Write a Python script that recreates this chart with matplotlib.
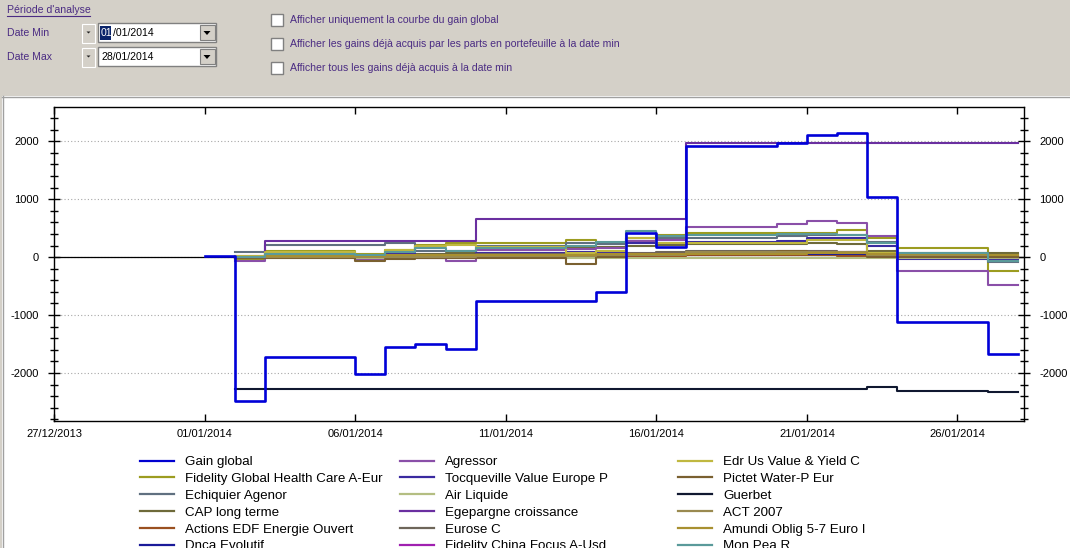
import numpy as np
import pandas as pd
import matplotlib
matplotlib.use('Agg')
from matplotlib import pyplot as plt
import matplotlib.dates as mdates
from matplotlib.ticker import MultipleLocator
from matplotlib.patches import Rectangle, Polygon
from matplotlib.lines import Line2D

plt.rcParams['axes.unicode_minus'] = False
plt.rcParams['font.family'] = ['Liberation Sans', 'DejaVu Sans']

N = np.nan
DAYS = pd.date_range('2014-01-01', '2014-01-28', freq='D')
X_TICKS = pd.date_range('2013-12-27', '2014-01-28', freq='5D')

# daily gains, 01/01/2014 .. 28/01/2014
gain_global = [25, -2490, -1720, -1720, -1720, -2010, -1546, -1494, -1592, -759, -759, -759, -759, -609,
               419, 167, 1925, 1925, 1925, 1971, 2115, 2143, 1040, -1115, -1115, -1115, -1667, -1667]
fidelity_health = [N, -35, 103, 103, 103, 60, 120, 218, 236, 247, 247, 247, 293, 250,
                   330, 380, 408, 408, 408, 425, 420, 466, 322, 150, 150, 150, -240, -240]
echiquier = [N, 92, 207, 207, 207, 207, 236, 103, 109, 200, 200, 200, 247, 230,
             280, 330, 333, 333, 333, 360, 379, 379, 264, 50, 50, 50, -80, -80]
cap_long = [N, -20, 20, 20, 20, -20, 30, 60, 70, 120, 120, 120, 160, 180,
            200, 210, 220, 220, 220, 230, 240, 230, 100, 70, 70, 70, 70, 70]
actions_edf = [N, -10, 0, 0, 0, -10, 0, 0, 0, 10, 10, 10, 10, 10,
               20, 20, 30, 30, 30, 30, 30, 20, 0, -10, -10, -10, -20, -20]
dnca = [N, 5, 20, 20, 20, 10, 20, 20, 20, 30, 30, 30, 30, 30,
        40, 50, 60, 60, 60, 60, 60, 50, 20, 0, 0, 0, -10, -10]
agressor = [N, -70, 40, 40, 40, -50, -20, -20, -70, 130, 130, 130, 140, 150,
            280, 300, 520, 520, 520, 570, 625, 590, 360, -245, -245, -245, -480, -480]
tocqueville = [N, 10, 35, 35, 35, 20, 63, 40, 29, 70, 70, 70, 80, 90,
               236, 236, 260, 260, 260, 282, 330, 322, 195, -40, -40, -40, -40, -40]
air_liquide = [N] + [-20] * 27
egepargne = [N, 20] + [276] * 7 + [660] * 7 + [1965] * 12
eurose = [N, 0, 30, 30, 30, 20, 30, 40, 40, 50, 50, 50, 50, 60,
          70, 80, 100, 100, 100, 110, 100, 90, 40, 20, 20, 20, 0, 0]
fidelity_china = [N, 0, 10, 10, 10, 0, 10, 20, 20, 30, 30, 30, 30, 40,
                  50, 60, 70, 70, 70, 70, 80, 80, 40, 10, 10, 10, 0, 0]
edr = [N, 17, 80, 80, 80, 35, 120, 190, 218, 180, 180, 180, 63, 100,
       322, 250, 247, 247, 247, 250, 293, 293, 63, 30, 30, 30, 10, 10]
pictet = [N, -20, -23, -23, -23, -63, -30, -20, -20, -10, -10, -10, -120, 0,
          30, 60, 90, 90, 90, 100, 90, 70, 10, 0, 0, 0, 0, 0]
guerbet = [N] + [-2270] * 21 + [-2247] + [-2305] * 3 + [-2328] * 2
act_2007 = [N, 0, 10, 10, 10, 10, 10, 10, 10, 20, 20, 20, 20, 40,
            40, 40, 80, 80, 80, 80, 80, 80, 30, 30, 30, 30, 30, 30]
amundi = [N, 10, 20, 20, 20, 20, 30, 30, 30, 40, 40, 40, 40, 50,
          50, 60, 60, 60, 60, 60, 70, 70, 60, 50, 50, 50, 40, 40]
mon_pea = [N, 0, 50, 50, 50, 30, 80, 160, 109, 150, 150, 150, 200, 253,
           448, 370, 390, 390, 390, 400, 400, 390, 250, 63, 63, 63, -60, -60]

COL1 = [('Gain global', gain_global, '#0000D0'),
        ('Fidelity Global Health Care A-Eur', fidelity_health, '#9C9C20'),
        ('Echiquier Agenor', echiquier, '#607080'),
        ('CAP long terme', cap_long, '#6E6A3A'),
        ('Actions EDF Energie Ouvert', actions_edf, '#9A5020'),
        ('Dnca Evolutif', dnca, '#1A1A99')]
COL2 = [('Agressor', agressor, '#8A4FA8'),
        ('Tocqueville Value Europe P', tocqueville, '#3A2AA0'),
        ('Air Liquide', air_liquide, '#B4BE82'),
        ('Egepargne croissance', egepargne, '#6A2FA0'),
        ('Eurose C', eurose, '#6E665A'),
        ('Fidelity China Focus A-Usd', fidelity_china, '#A020B0')]
COL3 = [('Edr Us Value & Yield C', edr, '#C0B840'),
        ('Pictet Water-P Eur', pictet, '#7A6030'),
        ('Guerbet', guerbet, '#101830'),
        ('ACT 2007', act_2007, '#9A8A50'),
        ('Amundi Oblig 5-7 Euro I', amundi, '#A89030'),
        ('Mon Pea R', mon_pea, '#5A9A9A')]

W, H = 1070, 548
fig = plt.figure(figsize=(W / 100, H / 100), dpi=100)
fig.patch.set_facecolor('white')

# --- form controls (pixel coordinates) ---
bg = fig.add_axes([0, 0, 1, 1], zorder=0)
bg.set_xlim(0, W)
bg.set_ylim(H, 0)
bg.axis('off')
GREY = '#D4D0C8'
UI_TXT = '#4B2C83'
UI_FS = 7.6
bg.add_patch(Rectangle((0, 0), W, 96, facecolor=GREY, edgecolor='none'))
bg.add_patch(Rectangle((0, 96), 2, H - 96, facecolor=GREY, edgecolor='none'))
bg.plot([2, W], [96.5, 96.5], color='#A0A0A0', lw=1)
bg.plot([2.5, 2.5], [96, H], color='#A0A0A0', lw=1)

bg.text(7, 10, "Période d'analyse", fontsize=UI_FS, color=UI_TXT, va='center')
bg.plot([7, 90], [15.5, 15.5], color=UI_TXT, lw=0.8)
for yc, lab, val in [(33, 'Date Min', '01/01/2014'), (57, 'Date Max', '28/01/2014')]:
    bg.text(7, yc, lab, fontsize=UI_FS, color=UI_TXT, va='center')
    bg.add_patch(Rectangle((82, yc - 9.5), 13, 19, facecolor=GREY, edgecolor='#FFFFFF', lw=0.8))
    bg.add_patch(Polygon([(86.5, yc - 1.5), (90.5, yc - 1.5), (88.5, yc + 0.5)], closed=True,
                         facecolor='#202020', edgecolor='none'))
    bg.add_patch(Rectangle((98, yc - 10), 118, 19, facecolor='white', edgecolor='#808080', lw=1))
    bg.add_patch(Rectangle((199.5, yc - 8), 15, 15, facecolor=GREY, edgecolor='#808080', lw=0.8))
    bg.add_patch(Polygon([(203.5, yc - 2), (210.5, yc - 2), (207, yc + 2)], closed=True,
                         facecolor='black', edgecolor='none'))
    if lab == 'Date Min':
        bg.add_patch(Rectangle((100, yc - 7.5), 11, 14, facecolor='#0A246A', edgecolor='none'))
        head = bg.text(101, yc, val[:2], fontsize=UI_FS, color='white', va='center')
        bg.annotate(val[2:], xy=(1, 0.5), xycoords=head, fontsize=UI_FS, color='black',
                    va='center', ha='left')
    else:
        bg.text(101, yc, val, fontsize=UI_FS, color='black', va='center')

CHECKS = ['Afficher uniquement la courbe du gain global',
          'Afficher les gains déjà acquis par les parts en portefeuille à la date min',
          'Afficher tous les gains déjà acquis à la date min']
for i, txt in enumerate(CHECKS):
    yc = 20 + 24 * i
    bg.add_patch(Rectangle((271, yc - 6), 12, 12, facecolor='white', edgecolor='#808080', lw=1))
    bg.text(290, yc, txt, fontsize=UI_FS, color=UI_TXT, va='center')

# --- chart ---
ax = fig.add_axes([54 / W, 1 - 421 / H, 970 / W, 314 / H], zorder=2)
ax.set_facecolor('white')
for col in (COL1, COL2, COL3):
    for name, vals, color in col:
        if name == 'Gain global':
            continue
        ax.step(DAYS, vals, where='post', color=color, lw=1.5)
ax.step(DAYS, gain_global, where='post', color='#0000D8', lw=1.9, zorder=5)
ax.axhline(0, color='black', lw=0.9, zorder=1.8)

ax.set_xlim(pd.Timestamp('2013-12-27'), pd.Timestamp('2014-01-28 05:00'))
ax.set_ylim(-2828, 2591)
ax.set_xticks(X_TICKS)
ax.xaxis.set_major_formatter(mdates.DateFormatter('%d/%m/%Y'))
ax.yaxis.set_major_locator(MultipleLocator(1000))
ax.yaxis.set_minor_locator(MultipleLocator(200))
ax.yaxis.grid(True, which='major', color='#A8A8A8', linestyle=(0, (1, 2)), lw=0.8)
ax.tick_params(axis='x', which='both', direction='in', top=True, length=5, width=1,
               labelsize=8, pad=6)
ax.tick_params(axis='y', which='major', direction='inout', left=True, right=True,
               labelleft=True, labelright=True, length=8, width=1, labelsize=8, pad=7)
ax.tick_params(axis='y', which='minor', direction='inout', left=True, right=True,
               length=6, width=1)
for s in ax.spines.values():
    s.set_color('black')
    s.set_linewidth(1)

# --- legend, three columns, clipped at the bottom like the original ---
for col, x0 in [(COL1, 140), (COL2, 400), (COL3, 678)]:
    handles = [Line2D([], [], color=c, lw=1.6) for _, _, c in col]
    labels = [n for n, _, _ in col]
    fig.legend(handles, labels, loc='upper left', bbox_to_anchor=(x0 / W, 1 - 456 / H),
               frameon=False, fontsize=9.6, handlelength=2.55, handletextpad=0.83,
               labelspacing=0.335, borderpad=0, borderaxespad=0)

fig.savefig('out.png', dpi=100)
